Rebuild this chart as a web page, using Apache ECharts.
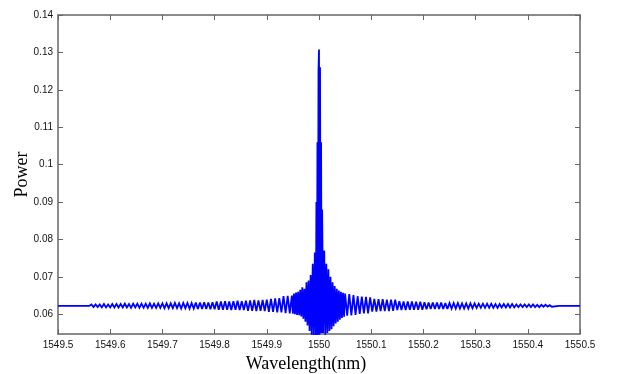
<!DOCTYPE html>
<html>
<head>
<meta charset="utf-8">
<script src="https://cdn.jsdelivr.net/npm/echarts@6/dist/echarts.min.js"></script>
<style>html,body{margin:0;padding:0;background:#fff}#c{width:622px;height:374px}</style>
</head>
<body>
<div id="c"></div>
<script>
// Tick labels
var xTicks = [1549.5, 1549.6, 1549.7, 1549.8, 1549.9, 1550.0, 1550.1, 1550.2, 1550.3, 1550.4, 1550.5];
var yTicks = [0.06, 0.07, 0.08, 0.09, 0.10, 0.11, 0.12, 0.13, 0.14];

// Wavelength samples (nm)
var wavelength = [
  1549.500, 1549.560,
  1549.564, 1549.568, 1549.572, 1549.576, 1549.580, 1549.584, 1549.588, 1549.592, 1549.596, 1549.600, 1549.604, 1549.608, 1549.612, 1549.616, 1549.620,
  1549.624, 1549.628, 1549.632, 1549.636, 1549.640, 1549.644, 1549.648, 1549.652, 1549.656, 1549.660, 1549.664, 1549.668, 1549.672, 1549.676, 1549.680, 1549.684, 1549.688, 1549.692, 1549.696, 1549.700,
  1549.704, 1549.708, 1549.712, 1549.716, 1549.720, 1549.724, 1549.728, 1549.732, 1549.736, 1549.740, 1549.744, 1549.748, 1549.752, 1549.756, 1549.760,
  1549.764, 1549.768, 1549.772, 1549.776, 1549.780, 1549.784, 1549.788, 1549.792, 1549.796, 1549.800,
  1549.804, 1549.808, 1549.812, 1549.816, 1549.820, 1549.824, 1549.828, 1549.832, 1549.836, 1549.840, 1549.844, 1549.848, 1549.852, 1549.856, 1549.860,
  1549.864, 1549.868, 1549.872, 1549.876, 1549.880, 1549.884, 1549.888, 1549.892, 1549.896, 1549.900,
  1549.904, 1549.908, 1549.912, 1549.916, 1549.920, 1549.924, 1549.928,
  1549.932, 1549.936, 1549.940, 1549.944, 1549.948,
  1549.950, 1549.952, 1549.954, 1549.956, 1549.958, 1549.960, 1549.962, 1549.964, 1549.966, 1549.968, 1549.970,
  1549.972, 1549.974, 1549.976, 1549.978, 1549.980, 1549.982, 1549.984, 1549.986, 1549.988, 1549.990, 1549.992,
  1549.994, 1549.995, 1549.996, 1549.997, 1549.998, 1549.999,
  1550.000, 1550.001, 1550.002, 1550.003, 1550.004, 1550.005, 1550.006, 1550.008, 1550.010,
  1550.012, 1550.014, 1550.016, 1550.018, 1550.020, 1550.022, 1550.024, 1550.026, 1550.028, 1550.030,
  1550.032, 1550.034, 1550.036, 1550.038, 1550.040, 1550.042, 1550.044, 1550.046, 1550.048, 1550.050,
  1550.054, 1550.058, 1550.062, 1550.066, 1550.070,
  1550.074, 1550.078, 1550.082, 1550.086, 1550.090, 1550.094, 1550.098,
  1550.102, 1550.106, 1550.110, 1550.114, 1550.118, 1550.122, 1550.126, 1550.130, 1550.134, 1550.138, 1550.142, 1550.146,
  1550.150, 1550.154, 1550.158, 1550.162, 1550.166, 1550.170, 1550.174, 1550.178, 1550.182, 1550.186, 1550.190, 1550.194, 1550.198,
  1550.202, 1550.206, 1550.210, 1550.214, 1550.218, 1550.222, 1550.226, 1550.230, 1550.234, 1550.238, 1550.242, 1550.246, 1550.250,
  1550.254, 1550.258, 1550.262, 1550.266, 1550.270, 1550.274, 1550.278, 1550.282, 1550.286, 1550.290, 1550.294, 1550.298,
  1550.302, 1550.306, 1550.310, 1550.314, 1550.318, 1550.322, 1550.326, 1550.330, 1550.334, 1550.338,
  1550.342, 1550.346, 1550.350, 1550.354, 1550.358, 1550.362, 1550.366, 1550.370, 1550.374, 1550.378,
  1550.382, 1550.386, 1550.390, 1550.394, 1550.398, 1550.402, 1550.406, 1550.410, 1550.414, 1550.418,
  1550.422, 1550.426, 1550.430, 1550.434, 1550.438, 1550.442, 1550.446,
  1550.460, 1550.500
];

// Power samples
var power = [
  0.0622, 0.0622,
  0.0626, 0.0619, 0.0626, 0.0619, 0.0626, 0.0618, 0.0627, 0.0618, 0.0626, 0.0618, 0.0627, 0.0618, 0.0627, 0.0618, 0.0627,
  0.0618, 0.0628, 0.0618, 0.0627, 0.0617, 0.0628, 0.0618, 0.0628, 0.0617, 0.0628, 0.0617, 0.0628, 0.0617, 0.0629, 0.0617, 0.0628, 0.0617, 0.0629, 0.0617, 0.0629,
  0.0616, 0.0629, 0.0616, 0.0629, 0.0616, 0.0630, 0.0616, 0.0629, 0.0615, 0.0630, 0.0616, 0.0630, 0.0615, 0.0630, 0.0615,
  0.0631, 0.0614, 0.0631, 0.0614, 0.0632, 0.0614, 0.0631, 0.0613, 0.0632, 0.0613,
  0.0634, 0.0612, 0.0634, 0.0612, 0.0635, 0.0612, 0.0634, 0.0611, 0.0635, 0.0612, 0.0636, 0.0611, 0.0635, 0.0611, 0.0636,
  0.0609, 0.0637, 0.0609, 0.0638, 0.0608, 0.0637, 0.0609, 0.0638, 0.0608, 0.0639,
  0.0606, 0.0641, 0.0606, 0.0642, 0.0605, 0.0643, 0.0605,
  0.0648, 0.0603, 0.0649, 0.0602, 0.0650,
  0.0601, 0.0655, 0.0600, 0.0658, 0.0598, 0.0660, 0.0597, 0.0665, 0.0594, 0.0672, 0.0588,
  0.0668, 0.0580, 0.0685, 0.0570, 0.0690, 0.0555, 0.0705, 0.0545, 0.0735, 0.0540, 0.0765,
  0.0540, 0.0900, 0.0540, 0.1060, 0.0545, 0.1250,
  0.1308, 0.0545, 0.1260, 0.0550, 0.1060, 0.0550, 0.0880, 0.0550, 0.0770,
  0.0545, 0.0735, 0.0550, 0.0720, 0.0555, 0.0700, 0.0560, 0.0685, 0.0568, 0.0675,
  0.0575, 0.0668, 0.0580, 0.0663, 0.0585, 0.0660, 0.0590, 0.0657, 0.0593, 0.0655,
  0.0596, 0.0654, 0.0597, 0.0651, 0.0598,
  0.0648, 0.0601, 0.0647, 0.0602, 0.0646, 0.0602, 0.0645,
  0.0607, 0.0641, 0.0607, 0.0640, 0.0608, 0.0640, 0.0608, 0.0639, 0.0608, 0.0639, 0.0609, 0.0639,
  0.0611, 0.0635, 0.0611, 0.0634, 0.0611, 0.0634, 0.0612, 0.0634, 0.0612, 0.0633, 0.0612, 0.0633, 0.0612,
  0.0632, 0.0613, 0.0631, 0.0614, 0.0631, 0.0614, 0.0631, 0.0614, 0.0631, 0.0614, 0.0630, 0.0614, 0.0630,
  0.0615, 0.0630, 0.0615, 0.0630, 0.0615, 0.0629, 0.0615, 0.0629, 0.0615, 0.0629, 0.0616, 0.0629,
  0.0617, 0.0628, 0.0617, 0.0628, 0.0617, 0.0628, 0.0617, 0.0628, 0.0617, 0.0627,
  0.0617, 0.0627, 0.0618, 0.0627, 0.0618, 0.0627, 0.0618, 0.0627, 0.0618, 0.0626,
  0.0619, 0.0626, 0.0619, 0.0626, 0.0619, 0.0626, 0.0619, 0.0626, 0.0619, 0.0625,
  0.0619, 0.0625, 0.0620, 0.0625, 0.0620, 0.0624, 0.0620,
  0.0622, 0.0622
];

var data = [];
for (var i = 0; i < Math.min(wavelength.length, power.length); i++) data.push([wavelength[i], power[i]]);

var axisCol = '#666';
var labelFont = { fontFamily: '"Liberation Sans", Arial, sans-serif', fontSize: 10, color: '#111' };

var chart = echarts.init(document.getElementById('c'), null, { renderer: 'canvas' });
chart.setOption({
  animation: false,
  backgroundColor: '#fff',
  grid: { left: 58, right: 42, top: 15, bottom: 40, containLabel: false, outerBoundsMode: 'none' },
  xAxis: [{
    type: 'value', position: 'bottom', min: 1549.5, max: 1550.5,
    name: 'Wavelength(nm)', nameLocation: 'middle', nameGap: 21, nameMoveOverlap: false,
    nameTextStyle: { fontFamily: '"Liberation Serif", "Times New Roman", serif', fontSize: 18, color: '#000', padding: [0, 26, 0, 0] },
    axisLine: { show: true, onZero: false, lineStyle: { color: axisCol, width: 1.5 } },
    axisTick: { show: true, inside: true, length: 5, customValues: xTicks, lineStyle: { color: axisCol } },
    axisLabel: Object.assign({ show: true, margin: 6, customValues: xTicks, formatter: function (v) { return String(+(+v).toFixed(1)); } }, labelFont),
    splitLine: { show: false }
  }, {
    type: 'value', position: 'top', min: 1549.5, max: 1550.5,
    axisLine: { show: true, onZero: false, lineStyle: { color: axisCol, width: 1.5 } },
    axisTick: { show: true, inside: true, length: 5, customValues: xTicks, lineStyle: { color: axisCol } },
    axisLabel: { show: false },
    splitLine: { show: false }
  }],
  yAxis: [{
    type: 'value', position: 'left', min: 0.0547, max: 0.14,
    name: 'Power', nameLocation: 'middle', nameGap: 27, nameRotate: 90, nameMoveOverlap: false,
    nameTextStyle: { fontFamily: '"Liberation Serif", "Times New Roman", serif', fontSize: 18, color: '#000' },
    axisLine: { show: true, onZero: false, lineStyle: { color: axisCol, width: 1.5 } },
    axisTick: { show: true, inside: true, length: 5, customValues: yTicks, lineStyle: { color: axisCol } },
    axisLabel: Object.assign({ show: true, margin: 5, customValues: yTicks, formatter: function (v) { return String(+(+v).toFixed(2)); } }, labelFont),
    splitLine: { show: false }
  }, {
    type: 'value', position: 'right', min: 0.0547, max: 0.14,
    axisLine: { show: true, onZero: false, lineStyle: { color: axisCol, width: 1.5 } },
    axisTick: { show: true, inside: true, length: 5, customValues: yTicks, lineStyle: { color: axisCol } },
    axisLabel: { show: false },
    splitLine: { show: false }
  }],
  series: [{
    type: 'line', xAxisIndex: 0, yAxisIndex: 0,
    data: data, showSymbol: false, symbol: 'none', clip: true,
    lineStyle: { color: '#0000ff', width: 1.8, join: 'miter', miterLimit: 3 },
    itemStyle: { color: '#0000ff' }
  }]
});
</script>
</body>
</html>
